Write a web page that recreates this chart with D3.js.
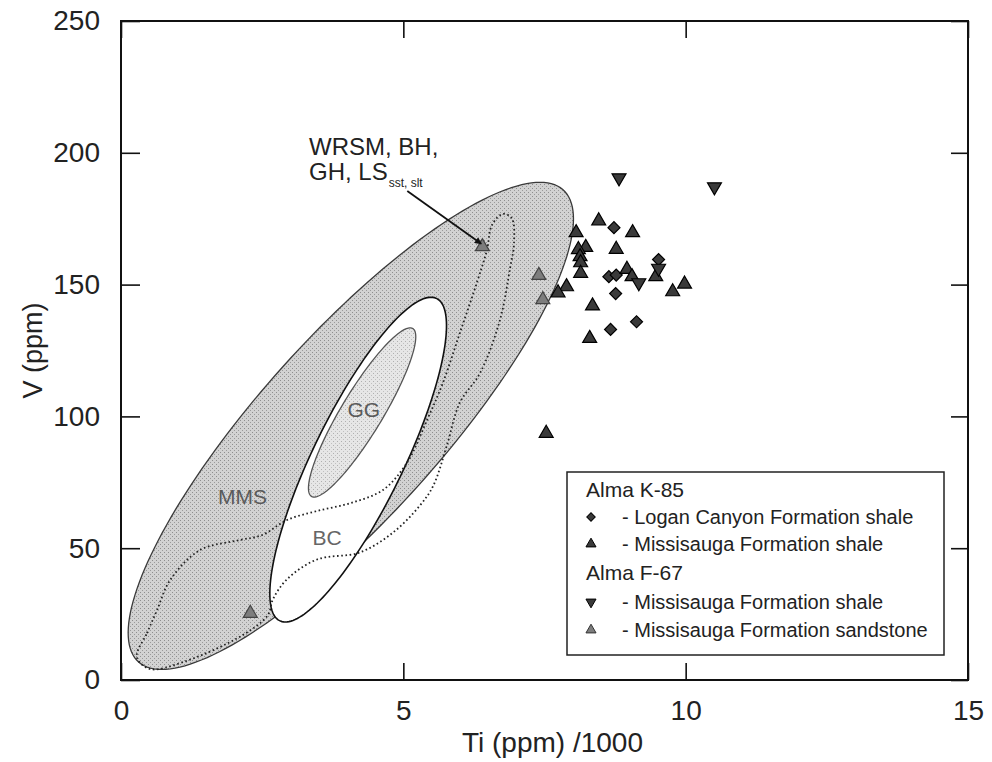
<!DOCTYPE html>
<html><head><meta charset="utf-8">
<script src="https://cdn.jsdelivr.net/npm/d3@7"></script>
<style>
body{margin:0;background:#fff;}
svg{font-family:"Liberation Sans",Arial,sans-serif;}
</style></head>
<body><svg id="c" width="992" height="762"></svg>
<script>
// ---- data ----
const xMajorTicks = [0, 5, 10, 15];
const yMajorTicks = [0, 50, 100, 150, 200, 250];
const xMinorTicks = d3.range(0, 16, 1);
const yMinorTicks = d3.range(0, 251, 10);

// Alma K-85 Logan Canyon Formation shale (Ti/1000, V)
const loganK85 = [[8.73,171.6],[9.52,159.5],[8.64,153.0],[8.77,153.6],[8.76,146.6],[9.13,135.9],[8.67,133.0]];
// Alma K-85 Missisauga Formation shale
const missShaleK85 = [[8.46,174.2],[9.06,169.7],[8.06,169.7],[8.23,164.1],[8.10,163.3],[8.77,163.4],[8.13,160.6],[8.14,158.3],[8.14,154.3],[8.96,155.8],[9.05,153.0],[9.47,153.0],[9.77,147.3],[9.98,150.2],[7.89,149.2],[7.74,146.9],[8.35,141.9],[8.30,129.6],[7.53,93.6]];
// Alma F-67 Missisauga Formation shale
const missShaleF67 = [[8.82,190.5],[10.51,187.1],[9.17,150.7],[9.52,156.2]];
// Alma F-67 Missisauga Formation sandstone
const missSandF67 = [[6.40,164.4],[7.40,153.5],[7.47,144.3],[2.29,25.3]];

// Compositional fields: centre, horizontal half-chord, conjugate half-diameter (data units)
const fieldMMS = {cx:4.07, cy:96.4, hx:2.08, tx:3.35, ty:92.4};
const fieldWhite = {cx:4.20, cy:83.6, hx:0.885, tx:1.29, ty:61.6};
const fieldGG = {cx:4.27, cy:101.5, hx:0.425, tx:0.85, ty:32.1};
// dotted field outline
const dottedField = [[0.28,8.7],[0.46,17.8],[0.64,26.6],[0.87,37.9],[1.40,49.3],[2.11,53.1],[2.50,55.0],[2.94,60.7],[3.47,64.1],[4.06,67.1],[4.64,72.1],[5.06,82.3],[5.42,98.6],[5.70,112.7],[6.00,131.6],[6.30,150.6],[6.48,163.1],[6.57,172.6],[6.76,176.8],[6.92,175.2],[6.96,165.7],[6.89,156.2],[6.71,136.5],[6.36,116.5],[6.00,105.2],[5.77,88.9],[5.53,73.7],[5.29,66.1],[4.82,56.0],[4.23,48.4],[3.47,45.7],[2.94,38.2],[2.69,30.6],[2.60,24.6],[2.16,17.1],[1.10,6.8],[0.51,4.2]];

const fieldLabels = [{t:"MMS",x:2.15,y:69,c:"#5a5a5a"},{t:"GG",x:4.3,y:102,c:"#5a5a5a"},{t:"BC",x:3.65,y:53.5,c:"#666"}];
const annotLines = ["WRSM, BH,","GH, LS"];
const annotSub = "sst, slt";
const arrowFrom = [5.07,185.5], arrowTo = [6.38,165.5];

const legendItems = [
  {kind:"title", text:"Alma K-85"},
  {kind:"diamond", text:"- Logan Canyon Formation shale"},
  {kind:"tri", text:"- Missisauga Formation shale"},
  {kind:"title", text:"Alma F-67"},
  {kind:"down", text:"- Missisauga Formation shale"},
  {kind:"sand", text:"- Missisauga Formation sandstone"}
];

// ---- chart ----
const svg = d3.select("#c");
const L=121, R=968, T=21, B=680;
const x = d3.scaleLinear().domain([0,15]).range([L,R]);
const y = d3.scaleLinear().domain([0,250]).range([B,T]);

const ellipsePts = f => d3.range(0,181).map(i=>{const a=i/180*2*Math.PI;return [f.cx+f.hx*Math.cos(a)+f.tx*Math.sin(a), f.cy+f.ty*Math.sin(a)];});
const line = d3.line().x(d=>x(d[0])).y(d=>y(d[1])).curve(d3.curveLinearClosed);
const cline = d3.line().x(d=>x(d[0])).y(d=>y(d[1])).curve(d3.curveCatmullRomClosed.alpha(0.5));

const defs = svg.append("defs");
const pat = defs.append("pattern").attr("id","stip").attr("width",4).attr("height",4).attr("patternUnits","userSpaceOnUse");
pat.append("rect").attr("width",4).attr("height",4).attr("fill","#d2d2d2");
pat.append("rect").attr("x",0).attr("y",0).attr("width",1).attr("height",1).attr("fill","#8e8e8e");
pat.append("rect").attr("x",2).attr("y",2).attr("width",1).attr("height",1).attr("fill","#9a9a9a");
const pat2 = defs.append("pattern").attr("id","stip2").attr("width",4).attr("height",4).attr("patternUnits","userSpaceOnUse");
pat2.append("rect").attr("width",4).attr("height",4).attr("fill","#e6e6e6");
pat2.append("rect").attr("x",1).attr("y",1).attr("width",1).attr("height",1).attr("fill","#b0b0b0");
pat2.append("rect").attr("x",3).attr("y",3).attr("width",1).attr("height",1).attr("fill","#c0c0c0");
defs.append("marker").attr("id","arr").attr("viewBox","0 0 10 10").attr("refX",9).attr("refY",5)
  .attr("markerWidth",9).attr("markerHeight",7).attr("orient","auto").attr("markerUnits","userSpaceOnUse")
  .append("path").attr("d","M0,0 L10,5 L0,10 z").attr("fill","#111");

svg.append("path").attr("d",line(ellipsePts(fieldMMS))).attr("fill","url(#stip)").attr("stroke","#3a3a3a").attr("stroke-width",1.3);
svg.append("path").attr("d",line(ellipsePts(fieldWhite))).attr("fill","#fff").attr("stroke","#111").attr("stroke-width",1.6);
svg.append("path").attr("d",line(ellipsePts(fieldGG))).attr("fill","url(#stip2)").attr("stroke","#555").attr("stroke-width",1.3);
svg.append("path").attr("d",cline(dottedField)).attr("fill","none").attr("stroke","#222").attr("stroke-width",1.8).attr("stroke-dasharray","1.6,2.6");

svg.selectAll(".flab").data(fieldLabels).join("text").attr("x",d=>x(d.x)).attr("y",d=>y(d.y))
  .attr("text-anchor","middle").attr("dominant-baseline","middle").attr("font-size",21).attr("fill",d=>d.c).text(d=>d.t);

// axes frame
svg.append("rect").attr("x",L).attr("y",T).attr("width",R-L).attr("height",B-T).attr("fill","none").attr("stroke","#111").attr("stroke-width",2);
const gB = svg.append("g").attr("transform",`translate(0,${B})`);
gB.call(d3.axisBottom(x).tickValues(xMinorTicks).tickSize(-8).tickFormat(""));
gB.call(d3.axisBottom(x).tickValues(xMajorTicks).tickSize(-17).tickPadding(20).tickFormat(d3.format("d")));
const gT = svg.append("g").attr("transform",`translate(0,${T})`);
gT.call(d3.axisTop(x).tickValues(xMinorTicks).tickSize(-8).tickFormat(""));
gT.call(d3.axisTop(x).tickValues(xMajorTicks).tickSize(-17).tickFormat(""));
const gL = svg.append("g").attr("transform",`translate(${L},0)`);
gL.call(d3.axisLeft(y).tickValues(yMinorTicks).tickSize(-10).tickFormat(""));
gL.call(d3.axisLeft(y).tickValues(yMajorTicks).tickSize(-19).tickPadding(21).tickFormat(d3.format("d")));
const gR = svg.append("g").attr("transform",`translate(${R},0)`);
gR.call(d3.axisRight(y).tickValues(yMinorTicks).tickSize(-8).tickFormat(""));
gR.call(d3.axisRight(y).tickValues(yMajorTicks).tickSize(-17).tickFormat(""));
svg.selectAll(".domain").remove();
svg.selectAll(".tick line").attr("stroke","#111").attr("stroke-width",1.6);
svg.selectAll(".tick text").attr("font-size",28).attr("fill","#222").attr("font-family","'Liberation Sans',Arial,sans-serif");

svg.append("text").attr("x",(L+R)/2+8).attr("y",752).attr("text-anchor","middle").attr("font-size",28).attr("fill","#222").text("Ti (ppm) /1000");
svg.append("text").attr("transform",`translate(42,${(T+B)/2}) rotate(-90)`).attr("text-anchor","middle").attr("font-size",27).attr("fill","#222").text("V (ppm)");

// markers
const triPath = d3.symbol().type(d3.symbolTriangle).size(84)();
const diaPath = d3.symbol().type(d3.symbolSquare).size(72)();
function drawPts(data, path, rot, fill, stroke){
  svg.append("g").selectAll("path").data(data).join("path").attr("d",path)
    .attr("transform",d=>`translate(${x(d[0])},${y(d[1])}) rotate(${rot})`)
    .attr("fill",fill).attr("stroke",stroke).attr("stroke-width",1.2);
}
drawPts(missSandF67, triPath, 0, "#7d7d7d", "#444");
drawPts(loganK85, diaPath, 45, "#3a3a3a", "#000");
drawPts(missShaleK85, triPath, 0, "#3a3a3a", "#000");
drawPts(missShaleF67, triPath, 180, "#3a3a3a", "#000");

// annotation
const ann = svg.append("g").attr("font-size",24).attr("fill","#222");
ann.append("text").attr("x",309).attr("y",155).text(annotLines[0]);
const t2 = ann.append("text").attr("x",309).attr("y",180);
t2.append("tspan").text(annotLines[1]);
t2.append("tspan").attr("font-size",12).attr("dy",7).attr("dx",1).text(annotSub);
svg.append("line").attr("x1",x(arrowFrom[0])).attr("y1",y(arrowFrom[1])).attr("x2",x(arrowTo[0])).attr("y2",y(arrowTo[1]))
  .attr("stroke","#111").attr("stroke-width",1.8).attr("marker-end","url(#arr)");

// legend
const lg = svg.append("g");
lg.append("rect").attr("x",567).attr("y",472).attr("width",377).attr("height",183).attr("fill","#fff").attr("stroke","#222").attr("stroke-width",1.5);
const rowY = [497,524,551,580,609,637];
const legTri = d3.symbol().type(d3.symbolTriangle).size(44)();
const legDia = d3.symbol().type(d3.symbolSquare).size(36)();
legendItems.forEach((it,i)=>{
  if(it.kind==="title"){
    lg.append("text").attr("x",586).attr("y",rowY[i]).attr("font-size",21).attr("fill","#222").text(it.text);
  } else {
    const sx=591, sy=rowY[i]-7;
    let p=legTri, r=0, f="#3a3a3a", s="#000";
    if(it.kind==="diamond"){p=legDia;r=45;}
    if(it.kind==="down"){r=180;}
    if(it.kind==="sand"){f="#7d7d7d";s="#333";}
    lg.append("path").attr("d",p).attr("transform",`translate(${sx},${sy}) rotate(${r})`).attr("fill",f).attr("stroke",s).attr("stroke-width",1);
    lg.append("text").attr("x",622).attr("y",rowY[i]).attr("font-size",20).attr("fill","#222").text(it.text);
  }
});
</script></body></html>
